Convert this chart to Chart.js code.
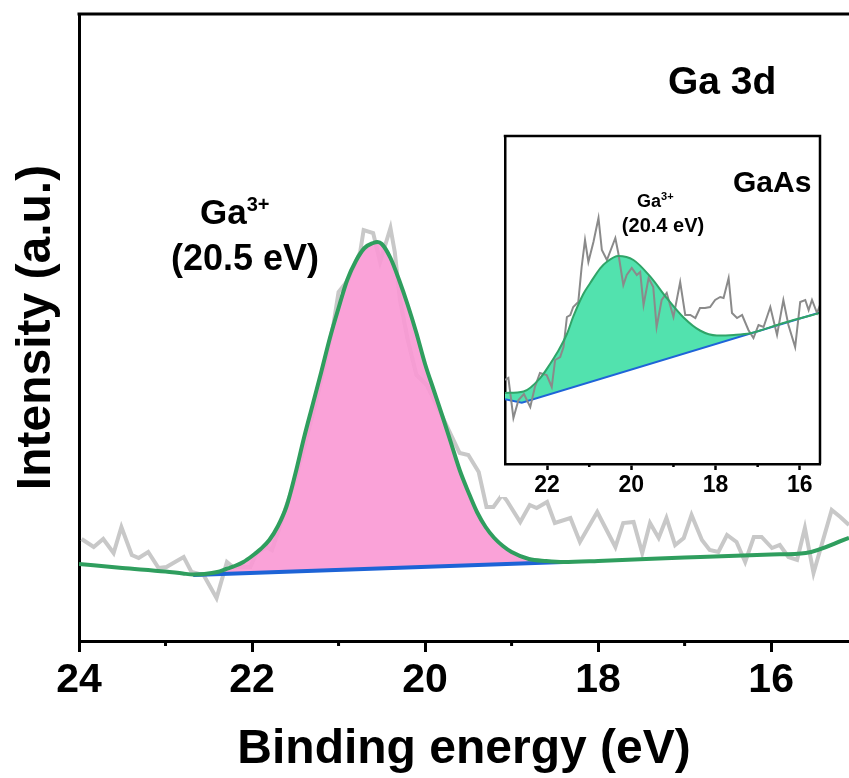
<!DOCTYPE html>
<html>
<head>
<meta charset="utf-8">
<script src="https://cdn.jsdelivr.net/npm/chart.js@4/dist/chart.umd.min.js"></script>
<style>
	body { margin: 0; background: #fff; }
	#wrap { position: relative; width: 849px; height: 778px; overflow: hidden; }
	#inset { position: absolute; left: 500px; top: 130px; background: #fff; }
	.lbl { position: absolute; font-family: "Liberation Sans", Arial, sans-serif; font-weight: bold; color: #000; line-height: 1; white-space: nowrap; }
	.sup { position: relative; }
</style>
</head>
<body>
<div id="wrap">
	<canvas id="main" width="849" height="778"></canvas>
	<canvas id="inset" width="330" height="367"></canvas>
	<div class="lbl" style="left:668px;top:61px;font-size:39px">Ga 3d</div>
	<div class="lbl" style="left:200px;top:194px;font-size:35px">Ga<span class="sup" style="font-size:20px;top:-13px">3+</span></div>
	<div class="lbl" style="left:245px;top:240px;font-size:36px;transform:translateX(-50%)">(20.5 eV)</div>
	<div class="lbl" style="left:733px;top:167px;font-size:30px">GaAs</div>
	<div class="lbl" style="left:637px;top:192px;font-size:18px">Ga<span class="sup" style="font-size:11px;top:-7px">3+</span></div>
	<div class="lbl" style="left:663px;top:215px;font-size:20px;transform:translateX(-50%)">(20.4 eV)</div>
</div>
<script>
// main panel: Ga 3d, binding energy (eV) vs intensity (a.u.)
const mainTicks = [24, 22, 20, 18, 16];
const mainMinor = [23, 21, 19, 17];

const rawE = [23.97, 23.83, 23.72, 23.60, 23.51, 23.39, 23.31, 23.20, 23.08, 22.99, 22.89, 22.79, 22.70, 22.56, 22.41, 22.29, 22.22, 22.02, 21.95, 21.83, 21.77, 21.68, 21.60, 21.50, 21.40, 21.30, 21.20, 21.06, 21.00, 20.89, 20.75, 20.71, 20.60, 20.52, 20.40, 20.35, 20.29, 20.20, 20.10, 19.98, 19.81, 19.60, 19.50, 19.38, 19.29, 19.21, 19.11, 19.06, 18.90, 18.79, 18.71, 18.59, 18.50, 18.32, 18.21, 18.01, 17.80, 17.71, 17.59, 17.49, 17.40, 17.30, 17.21, 17.11, 17.01, 16.92, 16.80, 16.71, 16.61, 16.51, 16.40, 16.30, 16.20, 16.11, 15.99, 15.90, 15.80, 15.70, 15.61, 15.51, 15.30, 15.20, 15.10];
const rawI = [102, 94, 102, 88, 114, 86, 83, 89, 73, 74, 79, 84, 69, 66, 43, 79, 74, 74, 88, 94, 91, 114, 136, 161, 193, 226, 261, 316, 349, 361, 389, 411, 408, 379, 413, 389, 341, 301, 266, 256, 226, 188, 186, 169, 134, 134, 146, 141, 119, 136, 133, 139, 118, 123, 99, 129, 94, 118, 119, 88, 118, 103, 123, 96, 103, 126, 101, 91, 89, 106, 99, 79, 104, 104, 93, 96, 84, 81, 113, 68, 131, 124, 116];

const envE = [24.0, 23.5, 23.0, 22.8, 22.68, 22.55, 22.4, 22.3, 22.2, 22.1, 22.0, 21.9, 21.8, 21.7, 21.6, 21.5, 21.4, 21.3, 21.2, 21.1, 21.0, 20.9, 20.8, 20.7, 20.6, 20.55, 20.5, 20.4, 20.3, 20.2, 20.1, 20.0, 19.9, 19.8, 19.7, 19.6, 19.5, 19.4, 19.3, 19.2, 19.1, 19.0, 18.8, 18.6, 18.4, 18.0, 17.0, 16.0, 15.6, 15.1];
const envI = [77, 73, 69.5, 67.5, 66.5, 67, 69, 72, 75, 79, 85, 92, 101, 115, 135, 167, 203, 236, 269, 303, 333, 361, 380, 393, 398, 399, 397, 383, 361, 336, 308, 277, 251, 225, 198, 171, 149, 129, 114, 103, 95, 89, 82, 80, 79, 80, 83.5, 86.5, 88, 103];

const baseE = [22.68, 18.4];
const baseI = [66, 79];

// inset: GaAs
const insetTicks = [22, 20, 18, 16];
const insetMinor = [21, 19, 17];

const inRawE = [23.00, 22.92, 22.80, 22.68, 22.55, 22.40, 22.29, 22.17, 22.01, 21.89, 21.81, 21.69, 21.61, 21.53, 21.45, 21.38, 21.26, 21.18, 21.10, 21.02, 20.90, 20.78, 20.70, 20.58, 20.38, 20.31, 20.19, 20.11, 19.99, 19.87, 19.79, 19.71, 19.59, 19.48, 19.40, 19.28, 19.16, 19.00, 18.84, 18.72, 18.60, 18.48, 18.37, 18.25, 18.13, 18.01, 17.89, 17.81, 17.69, 17.61, 17.49, 17.37, 17.22, 17.10, 16.98, 16.86, 16.70, 16.54, 16.39, 16.27, 16.11, 15.99, 15.87, 15.79, 15.71, 15.59, 15.52];
const inRawI = [84, 86, 46, 64, 70, 57, 77, 91, 89, 77, 104, 107, 117, 147, 149, 157, 162, 197, 224, 202, 222, 246, 214, 204, 226, 211, 179, 189, 196, 189, 192, 159, 186, 177, 137, 164, 171, 147, 182, 149, 149, 146, 156, 156, 157, 164, 167, 166, 186, 151, 146, 149, 134, 126, 139, 137, 157, 129, 164, 139, 117, 162, 164, 154, 164, 151, 159];

const inEnvE = [23.00, 22.56, 22.17, 21.93, 21.77, 21.53, 21.38, 21.14, 20.98, 20.74, 20.58, 20.31, 19.95, 19.55, 19.16, 18.76, 18.37, 17.97, 17.57, 17.18, 16.39, 15.52];
const inEnvI = [71, 72.5, 85.7, 100, 110.7, 130, 147.3, 170, 180.7, 195.7, 202.3, 208, 204, 187.3, 166, 146.5, 133.5, 128.5, 129, 130.7, 141, 151];

const inBaseE = [23.00, 22.60, 15.52];
const inBaseI = [64.7, 61.3, 151.5];

Chart.defaults.font.family = "'Liberation Sans', Arial, sans-serif";
Chart.defaults.font.weight = "bold";
Chart.defaults.color = "#000";

function pts(xs, ys) {
	return xs.map((x, i) => ({ x: x, y: ys[i] }));
}

function between(xs, ys, lo, hi) {
	const out = [];
	xs.forEach((x, i) => {
		if (x >= lo && x <= hi) out.push({ x: x, y: ys[i] });
	});
	return out;
}

// top / right frame lines and short minor ticks
const frame = {
	id: "frame",
	afterDraw(chart, args, opts) {
		const ctx = chart.ctx;
		const a = chart.chartArea;
		const x = chart.scales.x;
		ctx.save();
		ctx.strokeStyle = "#000";
		ctx.lineWidth = opts.width;
		ctx.beginPath();
		ctx.moveTo(a.left - opts.width / 2, a.top);
		ctx.lineTo(a.right + (opts.right ? opts.width / 2 : 0), a.top);
		if (opts.right) {
			ctx.moveTo(a.right, a.top);
			ctx.lineTo(a.right, a.bottom);
		}
		opts.minor.forEach((v) => {
			const px = x.getPixelForValue(v);
			ctx.moveTo(px, a.bottom);
			ctx.lineTo(px, a.bottom + opts.minorLen);
		});
		ctx.stroke();
		ctx.restore();
	}
};

new Chart(document.getElementById("main"), {
	type: "line",
	data: {
		datasets: [
			{
				data: pts(envE, envI),
				borderColor: "#2f9e5e",
				borderWidth: 4,
				pointRadius: 0,
				cubicInterpolationMode: "monotone",
				fill: false
			},
			{
				data: pts(baseE, baseI),
				borderColor: "#1d63d6",
				borderWidth: 4,
				pointRadius: 0,
				fill: false
			},
			{
				data: between(envE, envI, 18.4, 22.68),
				borderWidth: 0,
				borderColor: "rgba(0,0,0,0)",
				pointRadius: 0,
				cubicInterpolationMode: "monotone",
				backgroundColor: "rgba(249,152,212,0.9)",
				fill: 1
			},
			{
				data: pts(rawE, rawI),
				borderColor: "#c8c8c8",
				borderWidth: 4,
				pointRadius: 0,
				tension: 0,
				fill: false
			}
		]
	},
	options: {
		responsive: false,
		animation: false,
		layout: { padding: { top: 14, right: 0, left: 0, bottom: 0 } },
		plugins: {
			legend: { display: false },
			tooltip: { enabled: false },
			frame: { width: 3, right: false, minor: mainMinor, minorLen: 5 }
		},
		scales: {
			x: {
				type: "linear",
				reverse: true,
				min: 15.1,
				max: 24,
				afterBuildTicks: (s) => { s.ticks = mainTicks.map((v) => ({ value: v })); },
				afterFit: (s) => { s.height = 137; },
				border: { display: true, width: 3, color: "#000" },
				grid: { drawOnChartArea: false, drawTicks: true, tickLength: 11, tickWidth: 3, tickColor: "#000" },
				ticks: { color: "#000", font: { size: 41, weight: "bold" }, padding: 4, maxRotation: 0, autoSkip: false },
				title: { display: true, text: "Binding energy (eV)", color: "#000", font: { size: 48, weight: "bold", lineHeight: 1 }, padding: { top: 0, bottom: 4 } }
			},
			y: {
				min: 0,
				max: 627,
				afterFit: (s) => { s.width = 79; },
				ticks: { display: false },
				grid: { display: false },
				border: { display: true, width: 3, color: "#000" },
				title: { display: true, text: "Intensity (a.u.)", color: "#000", font: { size: 48, weight: "bold", lineHeight: 1 }, padding: { top: 13, bottom: 0 } }
			}
		}
	},
	plugins: [frame]
});

new Chart(document.getElementById("inset"), {
	type: "line",
	data: {
		datasets: [
			{
				data: pts(inEnvE, inEnvI),
				borderColor: "#30a468",
				borderWidth: 2,
				pointRadius: 0,
				cubicInterpolationMode: "monotone",
				fill: false
			},
			{
				data: pts(inRawE, inRawI),
				borderColor: "#8a8a8a",
				borderWidth: 2,
				pointRadius: 0,
				tension: 0,
				fill: false
			},
			{
				data: pts(inBaseE, inBaseI),
				borderColor: "#1f64d8",
				borderWidth: 2,
				pointRadius: 0,
				fill: false
			},
			{
				data: pts(inEnvE, inEnvI),
				borderWidth: 0,
				borderColor: "rgba(0,0,0,0)",
				pointRadius: 0,
				cubicInterpolationMode: "monotone",
				backgroundColor: "#52e2ae",
				fill: 2
			}
		]
	},
	options: {
		responsive: false,
		animation: false,
		layout: { padding: { top: 6, right: 10, left: 0, bottom: 0 } },
		plugins: {
			legend: { display: false },
			tooltip: { enabled: false },
			frame: { width: 2.5, right: true, minor: insetMinor, minorLen: 3 }
		},
		scales: {
			x: {
				type: "linear",
				reverse: true,
				min: 15.52,
				max: 23,
				afterBuildTicks: (s) => { s.ticks = insetTicks.map((v) => ({ value: v })); },
				afterFit: (s) => { s.height = 33; },
				border: { display: true, width: 2.5, color: "#000" },
				grid: { drawOnChartArea: false, drawTicks: true, tickLength: 6, tickWidth: 2.5, tickColor: "#000" },
				ticks: { color: "#000", font: { size: 23, weight: "bold" }, padding: 2, maxRotation: 0, autoSkip: false }
			},
			y: {
				min: 0,
				max: 328,
				afterFit: (s) => { s.width = 5; },
				ticks: { display: false },
				grid: { display: false },
				border: { display: true, width: 2.5, color: "#000" }
			}
		}
	},
	plugins: [frame]
});
</script>
</body>
</html>
